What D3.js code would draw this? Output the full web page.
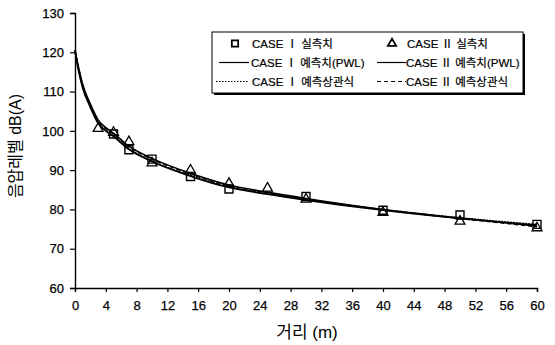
<!DOCTYPE html>
<html>
<head>
<meta charset="utf-8">
<script src="https://cdn.jsdelivr.net/npm/d3@7"></script>
<style>
  html, body { margin: 0; padding: 0; background: #fff; }
  svg { display: block; }
  text { font-family: "Liberation Sans", Arial, "Noto Sans CJK KR", sans-serif; fill: #000; }
</style>
</head>
<body>
<svg id="chart" width="555" height="345"></svg>
<script>
// Measured noise levels (dB(A)) by distance (m)
const caseIDist = [5, 7, 10, 15, 20, 30, 40, 50, 60];
const caseIMeasured = [99.2, 95.2, 92.8, 88.4, 85.2, 83.3, 79.8, 78.6, 76.2];
const caseIIDist = [3, 5, 7, 10, 15, 20, 25, 30, 40, 50, 60];
const caseIIMeasured = [100.6, 99.6, 97.2, 91.8, 90.0, 86.6, 85.4, 82.6, 79.2, 77.0, 75.3];

// Predicted curves sampled along distance
const curveDist = [0, 0.5, 1, 2, 3, 4, 5, 7, 10, 15, 20, 25, 30, 40, 50, 60];
const caseIPwl  = [120.5, 115.0, 111.0, 106.0, 102.0, 100.0, 98.6, 95.3, 92.2, 88.5, 85.6, 83.9, 82.4, 79.8, 77.7, 76.0];
const caseIIPwl = [120.5, 115.8, 111.8, 106.8, 102.8, 100.8, 99.4, 96.1, 93.0, 89.2, 86.2, 84.4, 82.8, 80.0, 77.8, 75.8];
const caseIFit  = [120.3, 115.2, 111.2, 106.2, 102.2, 100.2, 98.8, 95.5, 92.4, 88.7, 85.8, 84.1, 82.6, 80.0, 77.9, 76.2];
const caseIIFit = [120.6, 115.6, 111.6, 106.6, 102.6, 100.6, 99.2, 95.9, 92.8, 89.0, 86.0, 84.2, 82.6, 79.9, 77.7, 75.6];

const xTicks = [0, 4, 8, 12, 16, 20, 24, 28, 32, 36, 40, 44, 48, 52, 56, 60];
const yTicks = [60, 70, 80, 90, 100, 110, 120, 130];

const legendLabels = [
  "CASE Ⅰ 실측치", "CASE Ⅱ 실측치",
  "CASE Ⅰ 예측치(PWL)", "CASE Ⅱ 예측치(PWL)",
  "CASE Ⅰ 예측상관식", "CASE Ⅱ 예측상관식"
];

const svg = d3.select("#chart");
const plotLeft = 75, plotRight = 537, plotTop = 13, plotBottom = 288;

const x = d3.scaleLinear().domain([0, 60]).range([plotLeft, plotRight]);
const y = d3.scaleLinear().domain([60, 130]).range([plotBottom, plotTop]);

// Axes
const xAxis = svg.append("g")
  .attr("transform", `translate(0,${plotBottom})`)
  .call(d3.axisBottom(x).tickValues(xTicks).tickSize(4).tickPadding(9));
const yAxis = svg.append("g")
  .attr("transform", `translate(${plotLeft},0)`)
  .call(d3.axisLeft(y).tickValues(yTicks).tickSize(5).tickPadding(6));
[xAxis, yAxis].forEach(g => {
  g.select(".domain").attr("stroke", "#000").attr("stroke-width", 1.4);
  g.selectAll(".tick line").attr("stroke", "#000").attr("stroke-width", 1.2);
  g.selectAll(".tick text")
    .attr("fill", "#000")
    .attr("stroke", "#000").attr("stroke-width", 0.25)
    .style("font-size", "13px")
    .style("font-family", "'Liberation Sans', Arial, sans-serif");
});

// Axis titles
svg.append("text")
  .attr("x", 307).attr("y", 338)
  .attr("text-anchor", "middle")
  .style("font-size", "17px")
  .text("거리 (m)");
svg.append("text")
  .attr("transform", "translate(21,146) rotate(-90)")
  .attr("text-anchor", "middle")
  .style("font-size", "16px")
  .text("음압레벨 dB(A)");

// Predicted curves
const line = d3.line()
  .x(d => x(d[0]))
  .y(d => y(d[1]))
  .curve(d3.curveMonotoneX);
const curves = [
  { values: caseIPwl, dash: null, width: 1.8 },
  { values: caseIIPwl, dash: null, width: 1.6 },
  { values: caseIFit, dash: "1.5,1.5", width: 1.4 },
  { values: caseIIFit, dash: "4,3", width: 1.4 }
];
curves.forEach(c => {
  svg.append("path")
    .datum(curveDist.map((d, i) => [d, c.values[i]]))
    .attr("d", line)
    .attr("fill", "none")
    .attr("stroke", "#000")
    .attr("stroke-width", c.width)
    .attr("stroke-dasharray", c.dash);
});

// Measured points
const square = d3.symbol().type(d3.symbolSquare).size(64);
const triangle = d3.symbol().type(d3.symbolTriangle).size(42);
svg.append("g").selectAll("path")
  .data(caseIDist.map((d, i) => [d, caseIMeasured[i]]))
  .join("path")
  .attr("d", square)
  .attr("transform", d => `translate(${x(d[0])},${y(d[1])})`)
  .attr("fill", "none").attr("stroke", "#000").attr("stroke-width", 1.4);
svg.append("g").selectAll("path")
  .data(caseIIDist.map((d, i) => [d, caseIIMeasured[i]]))
  .join("path")
  .attr("d", triangle)
  .attr("transform", d => `translate(${x(d[0])},${y(d[1])})`)
  .attr("fill", "none").attr("stroke", "#000").attr("stroke-width", 1.3);

// Legend
const lg = svg.append("g");
lg.append("rect").attr("x", 214).attr("y", 34).attr("width", 311).attr("height", 61)
  .attr("fill", "#000");
lg.append("rect").attr("x", 212).attr("y", 32).attr("width", 311).attr("height", 61)
  .attr("fill", "#fff").attr("stroke", "#000").attr("stroke-width", 1);

const rowsY = [43.5, 62.5, 81.5];
const colText = [252, 407];
const colSym = [[216, 249], [374, 406]];
legendLabels.forEach((label, i) => {
  const row = Math.floor(i / 2), col = i % 2;
  const ty = rowsY[row];
  if (row === 0) {
    lg.append("path")
      .attr("d", col === 0 ? d3.symbol().type(d3.symbolSquare).size(40)() : d3.symbol().type(d3.symbolTriangle).size(30)())
      .attr("transform", `translate(${col === 0 ? 235 : 392},${ty})`)
      .attr("fill", "none").attr("stroke", "#000").attr("stroke-width", 1.8);
  } else {
    const c = curves[(row - 1) * 2 + col];
    lg.append("line")
      .attr("x1", colSym[col][0] + (row === 2 && col === 0 ? 0 : 3)).attr("x2", colSym[col][1])
      .attr("y1", ty).attr("y2", ty)
      .attr("stroke", "#000").attr("stroke-width", row === 1 ? 1.2 : 1.1)
      .attr("stroke-dasharray", c.dash);
  }
  lg.append("text")
    .attr("x", row === 0 || (row === 2 && col === 0) ? colText[col] : colText[col] - 1)
    .attr("y", ty).attr("dy", "0.35em")
    .attr("stroke", "#000").attr("stroke-width", 0.2)
    .style("font-size", "11.5px")
    .text(label);
});
</script>
</body>
</html>
